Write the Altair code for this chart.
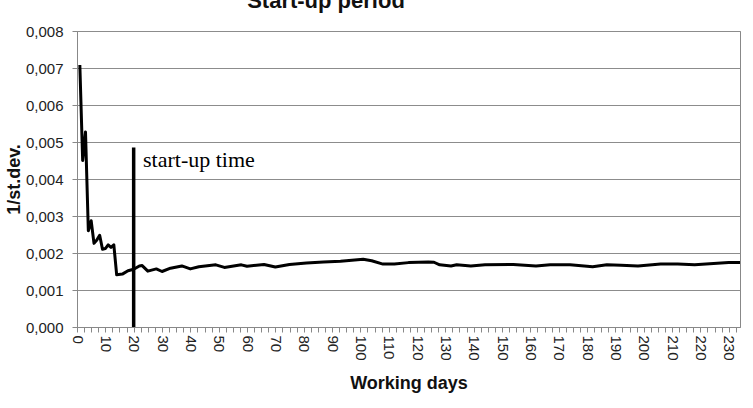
import altair as alt
import pandas as pd

# Data
days = [1, 2, 3, 4, 5, 6, 7, 8, 9, 10, 11, 12, 13, 14, 16, 18, 20, 22, 23, 25,
        28, 30, 33, 37, 40, 43, 49, 52, 58, 60, 66, 70, 75, 81, 87, 93, 98, 101,
        104, 108, 112, 117, 124, 126, 128, 132, 134, 139, 144, 154, 162, 167,
        174, 182, 187, 192, 198, 206, 212, 218, 222, 230, 234]
inv_sd = [0.00708, 0.00450, 0.00527, 0.00260, 0.00287, 0.00226, 0.00235, 0.00248,
          0.00210, 0.00212, 0.00222, 0.00215, 0.00222, 0.00141, 0.00143, 0.00152,
          0.00156, 0.00165, 0.00166, 0.00151, 0.00157, 0.00150, 0.00159, 0.00165,
          0.00157, 0.00163, 0.00168, 0.00161, 0.00168, 0.00164, 0.00169, 0.00162,
          0.00169, 0.00173, 0.00176, 0.00178, 0.00181, 0.00183, 0.00179, 0.00170,
          0.00170, 0.00174, 0.00176, 0.00175, 0.00168, 0.00165, 0.00168, 0.00165,
          0.00168, 0.00169, 0.00165, 0.00168, 0.00168, 0.00163, 0.00168, 0.00167,
          0.00165, 0.00170, 0.00170, 0.00168, 0.00170, 0.00174, 0.00174]

startup_day = [20]
startup_top = [0.00485]
annot_day = [23.3]
annot_val = [0.00432]
annot_text = ["start-up time"]
chart_title = ["Start-up period"]

x_ticks = [i * 2.5 for i in range(94)]
y_ticks = [0.000, 0.001, 0.002, 0.003, 0.004, 0.005, 0.006, 0.007, 0.008]

df = pd.DataFrame({"day": days, "v": inv_sd})
df_rule = pd.DataFrame({"day": startup_day, "v": [0.0], "y1": startup_top})
df_txt = pd.DataFrame({"day": annot_day, "v": annot_val, "t": annot_text})
df_title = pd.DataFrame({"t": chart_title})

x_scale = alt.Scale(domain=[0, 234], nice=False, zero=True)
y_scale = alt.Scale(domain=[0, 0.008], nice=False)

x_axis = alt.Axis(
    title="Working days",
    values=x_ticks,
    labelExpr="(round(datum.value * 2) % 20 == 0) ? datum.label : ''",
    labelAngle=90,
    labelFont="Liberation Sans",
    labelFontSize=15,
    labelColor="#222222",
    labelOverlap=False,
    labelFlush=False,
    labelPadding=3,
    tickSize=5,
    tickColor="#888888",
    domainColor="#888888",
    grid=False,
    titleFont="Liberation Sans",
    titleFontSize=18,
    titleFontWeight="bold",
    titleColor="#111111",
    titlePadding=14,
)
y_axis = alt.Axis(
    title="1/st.dev.",
    values=y_ticks,
    labelExpr="replace(format(datum.value, '.3f'), '.', ',')",
    labelFont="Liberation Sans",
    labelFontSize=15,
    labelColor="#222222",
    labelOverlap=False,
    labelPadding=9,
    tickSize=5,
    tickColor="#888888",
    domainColor="#888888",
    grid=True,
    gridColor="#8c8c8c",
    gridWidth=1,
    titleFont="Liberation Sans",
    titleFontSize=18,
    titleFontWeight="bold",
    titleColor="#111111",
    titlePadding=2,
)

X = alt.X("day:Q", scale=x_scale, axis=x_axis)
Y = alt.Y("v:Q", scale=y_scale, axis=y_axis)

line = alt.Chart(df).mark_line(color="black", strokeWidth=3, strokeJoin="round").encode(
    x=X, y=Y,
)

rule = alt.Chart(df_rule).mark_rule(color="black", strokeWidth=3.5).encode(
    x=X, y=Y, y2="y1:Q",
)

txt = alt.Chart(df_txt).mark_text(
    font="Liberation Serif", fontSize=22, align="left", baseline="alphabetic", color="black"
).encode(
    x=X, y=Y, text="t:N",
)

title = alt.Chart(df_title).mark_text(
    font="Liberation Sans", fontSize=22, fontWeight="bold", align="center",
    baseline="alphabetic", color="#111111",
).encode(
    x=alt.value(249), y=alt.value(-23), text="t:N",
)

chart = alt.layer(line, rule, txt, title).properties(
    width=663,
    height=296,
    autosize=alt.AutoSizeParams(type="none"),
    padding={"left": 77, "top": 31, "right": 13, "bottom": 81},
).configure_view(stroke="#888888", strokeWidth=1)

chart.save("out.html", embed_options={"renderer": "svg", "actions": False})
